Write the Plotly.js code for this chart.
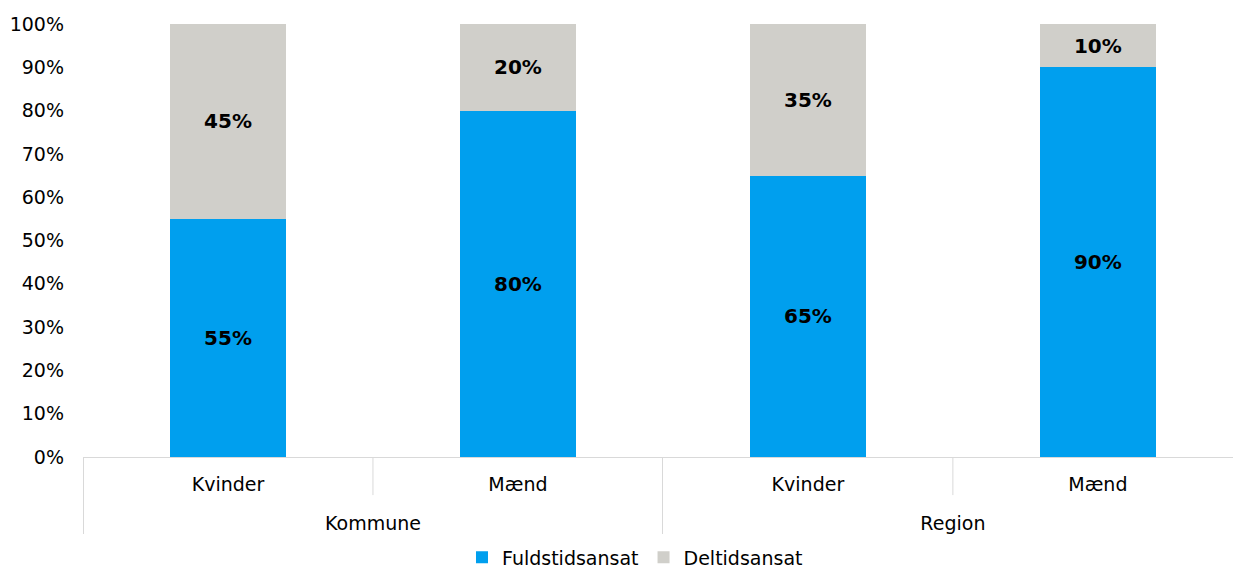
<!DOCTYPE html>
<html><head><meta charset="utf-8">
<script src="https://cdn.plot.ly/plotly-3.0.1.min.js"></script>
<style>html,body{margin:0;padding:0;background:#fff;overflow:hidden}#chart{width:1233px;height:571px}</style>
</head><body><div id="chart"></div>
<script>
const groups = ["Kommune", "Kommune", "Region", "Region"];
const genders = ["Kvinder", "Mænd", "Kvinder", "Mænd"];
const fuldtid = [55, 80, 65, 90];
const deltid = [45, 20, 35, 10];
const yTicks = [0,10,20,30,40,50,60,70,80,90,100];

const FONT = "Verdana, 'DejaVu Sans', sans-serif";
const common = {
  type: "bar", x: [groups.map(g => "<br>" + g), genders], width: 0.4,
  texttemplate: "%{text}", textposition: "inside", insidetextanchor: "middle",
  textangle: 0, constraintext: "none",
  textfont: {family: FONT, size: 20, color: "#000", weight: "bold"},
  hoverinfo: "skip"
};
const data = [
  Object.assign({}, common, {name: "Fuldstidsansat", y: fuldtid, text: fuldtid.map(v => v + "%"), marker: {color: "#009FEE"}}),
  Object.assign({}, common, {name: "Deltidsansat", y: deltid, text: deltid.map(v => v + "%"), marker: {color: "#D0CFCA"}})
];
const layout = {
  barmode: "stack",
  width: 1233, height: 571,
  margin: {l: 83, r: 0, t: 24, b: 114, autoexpand: false},
  paper_bgcolor: "#fff", plot_bgcolor: "#fff",
  font: {family: FONT, size: 19, color: "#000"},
  showlegend: true,
  legend: {orientation: "h", traceorder: "normal", x: 0.515, xref: "container", xanchor: "center",
           y: -0.232, yref: "paper", yanchor: "middle",
           font: {family: FONT, size: 19, color: "#000"}, itemwidth: 30, tracegroupgap: 0},
  xaxis: {type: "multicategory", range: [-0.5, 3.466], showline: true, linecolor: "#D9D9D9", linewidth: 1,
          showdividers: true, dividercolor: "#D9D9D9", dividerwidth: 1, ticklabelstandoff: 10,
          tickfont: {family: FONT, size: 19, color: "#000"}, ticks: "", showgrid: false},
  yaxis: {range: [0, 100], tickvals: yTicks, ticktext: yTicks.map(v => v + "%"),
          showgrid: false, zeroline: false, showline: false, ticks: "",
          ticklabelstandoff: 18, tickfont: {family: FONT, size: 19, color: "#000"}},
  shapes: [0.5, 2.5].map(v => ({type: "line", xref: "x", yref: "paper", x0: v, x1: v, y0: 0, y1: -0.088,
                                line: {color: "#D9D9D9", width: 1}}))
};
Plotly.newPlot("chart", data, layout, {staticPlot: true, displayModeBar: false});
</script></body></html>
